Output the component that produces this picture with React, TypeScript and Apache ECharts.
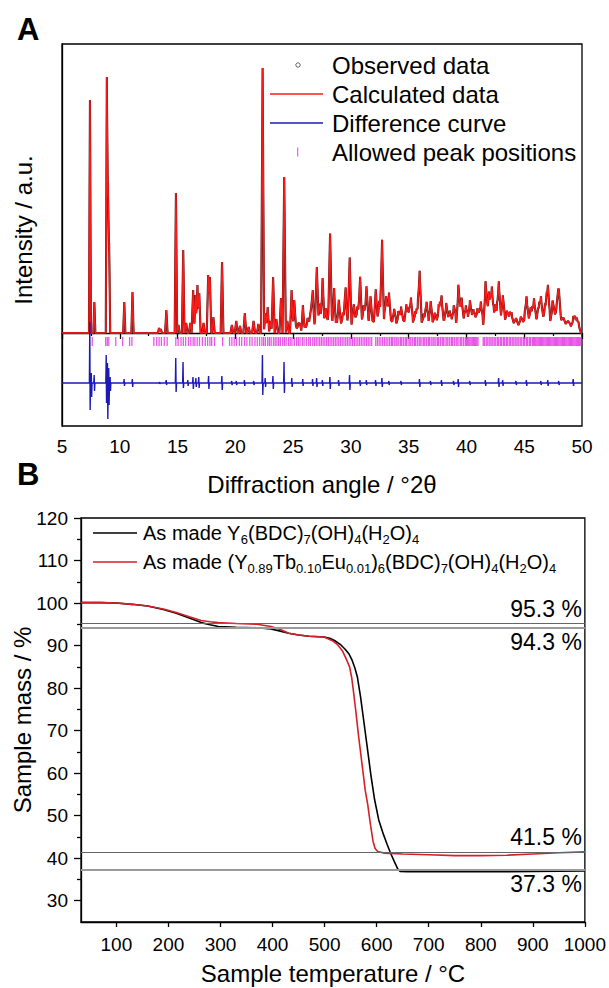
import React, { useEffect, useRef } from "react";
import * as echarts from "echarts";

const FONT = "'Liberation Sans', Arial, Helvetica, sans-serif";

// ---------------- Panel A : XRD refinement ----------------
// [2theta, calculated height, observed height] (a.u., baseline 0)
const strongPeaks: [number, number, number][] = [
  [7.42, 233, 255], [7.8, 31, 34], [8.88, 256, 258], [8.98, 150, 150], [9.08, 90, 90],
  [10.39, 31, 33], [11.1, 41, 44], [13.4, 5, 5], [13.55, 4, 4], [14.03, 23, 24],
  [14.86, 140, 155], [15.08, 8, 8], [15.49, 83, 92], [15.75, 10, 10], [16.1, 10, 10],
  [16.35, 43, 48], [16.55, 38, 40], [16.72, 48, 48], [16.88, 40, 40], [17.25, 10, 10],
  [17.65, 58, 60], [17.8, 56, 60], [18.1, 16, 16], [18.85, 71, 73], [19.7, 8, 8],
  [20.08, 12, 12], [20.4, 7, 7], [20.82, 20, 21], [21.15, 6, 6], [21.58, 12, 12],
  [22.0, 9, 9], [22.36, 265, 269], [22.6, 20, 20], [22.8, 26, 26], [23.05, 12, 12],
  [23.27, 56, 61], [23.55, 14, 14], [23.95, 35, 35], [24.23, 156, 176], [24.5, 12, 12],
  [24.87, 43, 45], [25.1, 33, 33], [25.45, 10, 10], [25.85, 28, 29], [26.25, 15, 15],
  [26.55, 25, 25], [26.7, 43, 43], [27.05, 66, 68], [27.35, 30, 30], [27.55, 55, 55],
  [27.85, 25, 25], [28.2, 100, 102], [28.55, 45, 45], [28.95, 33, 33], [29.3, 20, 20],
  [29.55, 40, 40], [29.9, 75, 88], [30.25, 28, 28], [30.55, 20, 20], [30.8, 55, 57],
  [31.1, 22, 22], [31.35, 45, 45], [31.7, 36, 36], [32.15, 42, 42], [32.45, 25, 25],
  [32.7, 92, 100], [33.05, 30, 30], [33.3, 38, 38], [33.75, 22, 22], [34.1, 18, 18],
  [34.35, 24, 24], [34.8, 26, 26], [35.2, 32, 32], [35.55, 20, 20], [35.95, 58, 60],
  [36.3, 18, 18], [36.55, 25, 25], [36.9, 30, 30], [37.25, 18, 18], [37.6, 22, 22],
  [37.85, 35, 35], [38.25, 28, 28], [38.55, 18, 18], [38.9, 25, 25], [39.3, 45, 47],
  [39.6, 32, 32], [39.95, 22, 22], [40.3, 30, 30], [40.6, 18, 18], [40.95, 22, 22],
  [41.25, 26, 26], [41.65, 48, 50], [41.95, 30, 30], [42.2, 40, 40], [42.5, 22, 22],
  [42.8, 45, 46], [43.15, 35, 35], [43.5, 20, 20], [43.9, 18, 18], [44.3, 15, 15],
  [44.7, 14, 14], [45.2, 30, 30], [45.55, 22, 22], [45.85, 28, 28], [46.2, 18, 18],
  [46.45, 30, 30], [46.8, 25, 25], [47.05, 36, 38], [47.45, 28, 28], [47.8, 22, 22],
  [48.0, 32, 33], [48.4, 15, 15], [48.8, 12, 12], [49.25, 14, 14], [49.55, 10, 10],
];

// weak reflections filling the high-angle region [2theta, height]
const weakPeaks: [number, number][] = [
  [25.25, 8], [25.6, 10], [26.05, 9], [26.4, 12], [26.9, 14], [27.2, 18], [27.7, 15],
  [28.05, 20], [28.35, 18], [28.75, 15], [29.1, 14], [29.45, 16], [29.75, 18], [30.1, 12],
  [30.4, 14], [30.65, 16], [30.95, 12], [31.2, 14], [31.5, 16], [31.85, 12], [32.0, 10],
  [32.3, 14], [32.55, 16], [32.9, 18], [33.15, 14], [33.45, 12], [33.6, 10], [33.9, 12],
  [34.2, 10], [34.5, 12], [34.65, 10], [34.95, 14], [35.05, 16], [35.35, 12], [35.7, 14],
  [35.8, 20], [36.1, 12], [36.45, 10], [36.7, 14], [37.05, 12], [37.4, 14], [37.7, 16],
  [38.05, 14], [38.4, 12], [38.7, 14], [39.05, 16], [39.45, 18], [39.8, 14], [40.1, 16],
  [40.45, 14], [40.75, 16], [41.1, 14], [41.4, 12], [41.8, 18], [42.05, 16], [42.35, 14],
  [42.65, 16], [42.95, 14], [43.3, 12], [43.65, 10], [43.75, 12], [44.1, 10], [44.5, 8],
  [44.85, 10], [45.05, 14], [45.35, 12], [45.7, 14], [46.0, 12], [46.3, 14], [46.6, 12],
  [46.95, 16], [47.2, 14], [47.6, 16], [47.95, 14], [48.2, 12], [48.6, 8], [49.0, 8],
  [49.4, 10], [49.7, 8],
];

// allowed reflection positions (2theta)
const reflections: number[] = [
  7.62, 8.78, 8.92, 9.05, 9.65, 10.25, 10.85, 11.05, 12.95, 13.2, 13.4, 13.6, 13.85, 14.1,
  14.85, 15.05, 15.3, 15.5, 15.7, 15.95, 16.15, 16.35, 16.5, 16.7, 16.9, 17.15, 17.4, 17.6,
  17.8, 17.95, 18.2, 18.9, 19.5, 19.7, 19.9, 20.1, 20.35, 20.55, 20.8, 21.0, 21.25, 21.45,
  21.7, 21.9, 22.1, 22.3, 22.45, 22.6, 22.8, 22.95, 23.1, 23.3, 23.45, 23.6, 23.75, 23.9,
  24.1, 24.25, 24.4, 24.6, 24.75, 24.9, 25.1, 25.3, 25.45, 25.6, 25.8, 25.95, 26.15, 26.35,
  26.5, 26.7, 26.85, 27.0, 27.15, 27.3, 27.45, 27.6, 27.75, 27.9, 28.05, 28.2, 28.35, 28.5,
  28.65, 28.8, 28.95, 29.1, 29.25, 29.4, 29.55, 29.7, 29.85, 30.0, 30.15, 30.3, 30.45, 30.6,
  30.75, 30.9, 31.05, 31.2, 31.35, 31.5, 31.65, 31.8, 32.15, 32.3, 32.45, 32.6, 32.75, 32.9,
  33.05, 33.2, 33.35, 33.5, 33.6, 33.75, 33.9, 34.0, 34.15, 34.3, 34.4, 34.55, 34.7, 34.8,
  34.95, 35.1, 35.2, 35.35, 35.5, 35.6, 35.75, 35.9, 36.0, 36.15, 36.3, 36.4, 36.55, 36.7,
  36.8, 36.95, 37.1, 37.2, 37.35, 37.5, 37.6, 37.75, 37.9, 38.0, 38.15, 38.3, 38.4, 38.55,
  38.7, 38.8, 38.95, 39.1, 39.2, 39.35, 39.5, 39.6, 39.75, 39.9, 40.0, 40.1, 40.2, 40.3,
  40.4, 40.5, 40.6, 40.7, 40.8, 40.9, 41.0, 41.45, 41.55, 41.7, 41.8, 41.95, 42.05, 42.2,
  42.3, 42.45, 42.55, 42.7, 42.8, 42.95, 43.05, 43.2, 43.3, 43.45, 43.55, 43.7, 43.8, 43.95,
  44.05, 44.2, 44.3, 44.45, 44.55, 44.7, 44.8, 44.95, 45.05, 45.2, 45.3, 45.45, 45.55, 45.7,
  45.8, 45.9, 46.0, 46.1, 46.2, 46.3, 46.4, 46.5, 46.6, 46.7, 46.8, 46.9, 47.0, 47.1, 47.2,
  47.3, 47.4, 47.5, 47.6, 47.7, 47.8, 47.9, 48.0, 48.1, 48.2, 48.3, 48.4, 48.5, 48.6, 48.7,
  48.8, 48.9, 49.0, 49.1, 49.2, 49.3, 49.4, 49.5, 49.6, 49.7, 49.8, 49.9,
];

// difference curve spikes [2theta, up, down] around its baseline
const diffBaseline = -50;
const diffSpikes: [number, number, number][] = [
  [7.42, 61, 27], [7.55, 10, 14], [7.8, 8, 8], [8.84, 28, 20], [8.95, 20, 36], [9.06, 15, 22],
  [9.18, 6, 8], [10.39, 4, 3], [11.1, 4, 4], [13.45, 1, 1], [14.03, 3, 2], [14.86, 25, 9],
  [15.49, 21, 5], [15.9, 3, 3], [16.35, 6, 6], [16.6, 5, 4], [16.85, 6, 5], [17.7, 7, 6],
  [18.85, 7, 7], [19.7, 2, 2], [20.1, 2, 2], [20.8, 3, 3], [21.6, 2, 2], [22.36, 28, 12],
  [22.6, 5, 4], [23.27, 7, 6], [24.23, 21, 10], [24.9, 5, 4], [25.85, 4, 3], [26.7, 4, 3],
  [27.05, 5, 4], [27.55, 3, 3], [28.2, 6, 6], [28.95, 3, 3], [29.9, 8, 7], [30.8, 3, 3],
  [31.35, 3, 2], [32.15, 3, 3], [32.7, 5, 4], [33.3, 2, 2], [34.35, 2, 2], [35.95, 4, 4],
  [36.9, 2, 2], [37.85, 3, 3], [38.9, 2, 2], [39.3, 4, 4], [40.3, 2, 2], [41.65, 3, 3],
  [42.8, 5, 4], [43.15, 3, 3], [44.3, 2, 2], [45.2, 3, 3], [46.45, 2, 2], [47.05, 3, 3],
  [48.0, 2, 2], [49.25, 4, 3],
];

const legendA = ["Observed data", "Calculated data", "Difference curve", "Allowed peak positions"];

// ---------------- Panel B : TGA ----------------
const tempBlack = [32, 70, 100, 130, 160, 190, 215, 240, 263, 280, 296, 330, 370, 397, 415, 431, 450, 470, 499, 510, 519, 530, 539, 547, 553, 558, 563, 569, 575, 582, 589, 596, 604, 613, 620, 627, 634, 640, 645, 660, 700, 800, 900, 1000];
const massBlack = [100.1, 100.1, 100.0, 99.7, 99.3, 98.5, 97.6, 96.5, 95.4, 94.9, 94.5, 94.3, 94.2, 93.9, 93.4, 92.9, 92.5, 92.2, 92.0, 91.7, 91.2, 90.3, 89.2, 88.0, 86.5, 84.8, 82.6, 78.0, 72.5, 66.0, 59.5, 53.8, 49.0, 45.6, 43.3, 41.1, 39.2, 37.6, 36.9, 36.8, 36.9, 36.8, 36.9, 37.0];
const tempRed = [32, 70, 100, 130, 160, 190, 215, 240, 263, 280, 296, 330, 370, 397, 415, 431, 450, 470, 499, 514, 525, 534, 541, 548, 552, 556, 560, 565, 570, 574, 578, 583, 588, 593, 597, 602, 615, 650, 700, 750, 800, 850, 900, 950, 1000];
const massRed = [100.1, 100.1, 100.0, 99.7, 99.3, 98.6, 97.8, 96.8, 95.9, 95.6, 95.4, 95.2, 95.0, 94.5, 93.8, 92.9, 92.5, 92.2, 92.0, 91.2, 90.2, 88.8, 87.0, 85.0, 82.5, 78.7, 74.5, 69.0, 64.0, 60.0, 56.0, 52.5, 48.0, 44.0, 42.3, 41.6, 41.2, 41.0, 40.8, 40.6, 40.6, 40.7, 41.0, 41.3, 41.5];
const massLevels = [95.3, 94.3, 41.5, 37.3];
const tempTicks = [100, 200, 300, 400, 500, 600, 700, 800, 900, 1000];
const massTicks = [30, 40, 50, 60, 70, 80, 90, 100, 110, 120];
const massMinorTicks = [35, 45, 55, 65, 75, 85, 95, 105, 115];

function halfWidth(p: number) {
  return 0.08 + 0.003 * (p - 5);
}

function buildProfile(peaks: [number, number][]) {
  const xs = new Set<number>([5, 50]);
  peaks.forEach(([p]) => {
    const w = halfWidth(p);
    xs.add(+(p - w).toFixed(4));
    xs.add(p);
    xs.add(+(p + w).toFixed(4));
  });
  const sorted = Array.from(xs).sort((a, b) => a - b);
  return sorted.map((x) => {
    let y = 0;
    peaks.forEach(([p, h]) => {
      const w = halfWidth(p);
      const d = Math.abs(x - p);
      if (d < w) y += h * (1 - d / w);
    });
    return [x, +y.toFixed(2)];
  });
}

export default function App() {
  const ref = useRef<HTMLDivElement>(null);
  useEffect(() => {
    document.body.style.margin = "0";
    if (!ref.current) return;
    const chart = echarts.init(ref.current, undefined, { renderer: "svg" });

    const calcPeaks: [number, number][] = [
      ...strongPeaks.map(([p, c]) => [p, c] as [number, number]),
      ...weakPeaks,
    ];
    const calcProfile = buildProfile(calcPeaks);
    const obsPoints = strongPeaks.map(([p, , o]) => [p, o]);
    const diffData: number[][] = [[5, diffBaseline]];
    diffSpikes.forEach(([p, up, dn]) => {
      diffData.push([p - 0.05, diffBaseline], [p - 0.015, diffBaseline + up], [p + 0.015, diffBaseline - dn], [p + 0.05, diffBaseline]);
    });
    diffData.push([50, diffBaseline]);
    const tickData = reflections.map((r) => [r, -8.5]);

    const levelStyles = [
      { color: "#666", width: 1, pos: "insideEndTop" },
      { color: "#9a9a9a", width: 1.8, pos: "insideEndBottom" },
      { color: "#666", width: 1, pos: "insideEndTop" },
      { color: "#9a9a9a", width: 1.8, pos: "insideEndBottom" },
    ];

    const axisLineStyle = { color: "#000", width: 1.3 };

    const text = (t: string, x: number, y: number, size: number, extra: any = {}) => ({
      type: "text",
      x,
      y,
      silent: true,
      ...extra.el,
      style: {
        text: t,
        fontSize: size,
        fontFamily: FONT,
        fill: "#000",
        align: "center",
        verticalAlign: "middle",
        ...extra.style,
      },
    });

    const legendAY = [65, 94, 123, 152];

    const richN = { fontSize: 20, lineHeight: 26, fontFamily: FONT, fill: "#000" };
    const richS = { fontSize: 13, lineHeight: 14, verticalAlign: "bottom", fontFamily: FONT, fill: "#000" };

    chart.setOption({
      animation: false,
      textStyle: { fontFamily: FONT },
      grid: [
        { left: 62, top: 44, width: 520, height: 382, show: true, borderColor: "#000", borderWidth: 1.3 },
        { left: 81, top: 518, width: 505, height: 404, show: true, borderColor: "#000", borderWidth: 1.3 },
      ],
      xAxis: [
        {
          type: "value", gridIndex: 0, min: 5, max: 50, interval: 5,
          axisLine: { show: true, lineStyle: axisLineStyle },
          axisTick: { show: true, length: 6, lineStyle: axisLineStyle },
          minorTick: { show: true, splitNumber: 2, length: 3, lineStyle: { color: "#000", width: 1.2 } },
          axisLabel: { fontSize: 19, color: "#000", margin: 11, fontFamily: FONT },
          splitLine: { show: false },
        },
        {
          type: "value", gridIndex: 1, min: 32, max: 1000,
          axisLine: { show: true, lineStyle: axisLineStyle },
          axisTick: { show: true, length: 5, lineStyle: axisLineStyle, customValues: tempTicks },
          axisLabel: {
            fontSize: 19, color: "#000", margin: 13, fontFamily: FONT, customValues: tempTicks,
            formatter: (v: number) => String(v),
          },
          splitLine: { show: false },
        },
      ],
      yAxis: [
        {
          type: "value", gridIndex: 0, min: -93, max: 289,
          axisLine: { show: true, lineStyle: axisLineStyle },
          axisTick: { show: false }, axisLabel: { show: false }, splitLine: { show: false },
        },
        {
          type: "value", gridIndex: 1, min: 25, max: 120,
          axisLine: { show: true, lineStyle: axisLineStyle },
          axisTick: { show: true, length: 7, lineStyle: axisLineStyle, customValues: massTicks },
          axisLabel: {
            fontSize: 19, color: "#000", margin: 13, fontFamily: FONT, customValues: massTicks,
            formatter: (v: number) => String(v),
          },
          splitLine: { show: false },
        },
        {
          type: "value", gridIndex: 1, min: 25, max: 120, position: "left",
          axisLine: { show: false },
          axisTick: { show: true, length: 4, lineStyle: axisLineStyle, customValues: massMinorTicks },
          axisLabel: { show: false }, splitLine: { show: false },
        },
      ],
      series: [
        {
          name: "Observed trace", type: "line", xAxisIndex: 0, yAxisIndex: 0,
          data: calcProfile, symbol: "none", silent: true,
          lineStyle: { color: "#5a1212", width: 2.1 },
        },
        {
          name: "Calculated data", type: "line", xAxisIndex: 0, yAxisIndex: 0,
          data: calcProfile, symbol: "none", silent: true,
          lineStyle: { color: "#ff1a1a", width: 1.4 },
        },
        {
          name: "Observed data", type: "scatter", xAxisIndex: 0, yAxisIndex: 0,
          data: obsPoints, symbol: "emptyCircle", symbolSize: 4.5, silent: true,
          itemStyle: { color: "#fff", borderColor: "#555", borderWidth: 0.9 },
        },
        {
          name: "Difference curve", type: "line", xAxisIndex: 0, yAxisIndex: 0,
          data: diffData, symbol: "none", silent: true,
          lineStyle: { color: "#1a1ab8", width: 1.4 },
        },
        {
          name: "Allowed peak positions", type: "scatter", xAxisIndex: 0, yAxisIndex: 0,
          data: tickData, symbol: "rect", symbolSize: [1.3, 9], silent: true,
          itemStyle: { color: "#e030e0" },
        },
        {
          name: "Y6", type: "line", xAxisIndex: 1, yAxisIndex: 1,
          data: tempBlack.map((t, i) => [t, massBlack[i]]), symbol: "none", silent: true,
          lineStyle: { color: "#000", width: 1.6 },
          z: 3,
          markLine: {
            silent: true, symbol: "none",
            data: massLevels.map((v, i) => ({
              yAxis: v,
              lineStyle: { color: levelStyles[i].color, width: levelStyles[i].width, type: "solid" },
              label: {
                show: true, position: levelStyles[i].pos, formatter: `${v} %`,
                fontSize: 23, color: "#000", fontFamily: FONT, distance: 3,
              },
            })),
          },
        },
        {
          name: "YTbEu", type: "line", xAxisIndex: 1, yAxisIndex: 1,
          data: tempRed.map((t, i) => [t, massRed[i]]), symbol: "none", silent: true,
          lineStyle: { color: "#d42027", width: 1.6 },
          z: 3,
        },
      ],
      graphic: [
        text("A", 17, 29, 31, { style: { align: "left", fontWeight: "bold" } }),
        text("B", 17, 474, 31, { style: { align: "left", fontWeight: "bold" } }),
        text("Intensity / a.u.", 23, 230, 24, { el: { rotation: Math.PI / 2 } }),
        text("Diffraction angle / °2θ", 322, 484, 24),
        text("Sample mass / %", 22, 720, 24, { el: { rotation: Math.PI / 2 } }),
        text("Sample temperature / °C", 333, 973, 24),
        // legend A
        { type: "circle", silent: true, shape: { cx: 298, cy: legendAY[0], r: 2.2 }, style: { fill: "#fff", stroke: "#555", lineWidth: 0.9 } },
        { type: "line", silent: true, shape: { x1: 270, y1: legendAY[1], x2: 323, y2: legendAY[1] }, style: { stroke: "#ff1a1a", lineWidth: 1.3 } },
        { type: "line", silent: true, shape: { x1: 270, y1: legendAY[2], x2: 323, y2: legendAY[2] }, style: { stroke: "#1a1ab8", lineWidth: 1.3 } },
        { type: "rect", silent: true, shape: { x: 297, y: legendAY[3] - 4.5, width: 1.3, height: 9 }, style: { fill: "#e070e0" } },
        ...legendA.map((t, i) => text(t, 332, legendAY[i], 24, { style: { align: "left" } })),
        // legend B
        { type: "line", silent: true, shape: { x1: 93, y1: 533, x2: 137, y2: 533 }, style: { stroke: "#000", lineWidth: 1.6 } },
        { type: "line", silent: true, shape: { x1: 93, y1: 562, x2: 137, y2: 562 }, style: { stroke: "#d42027", lineWidth: 1.6 } },
        {
          type: "text", x: 143, y: 533, silent: true,
          style: {
            text: "{n|As made Y}{s|6}{n|(BDC)}{s|7}{n|(OH)}{s|4}{n|(H}{s|2}{n|O)}{s|4}",
            align: "left", verticalAlign: "middle", fontFamily: FONT, fontSize: 20,
            rich: { n: richN, s: richS },
          },
        },
        {
          type: "text", x: 143, y: 562, silent: true,
          style: {
            text: "{n|As made (Y}{s|0.89}{n|Tb}{s|0.10}{n|Eu}{s|0.01}{n|)}{s|6}{n|(BDC)}{s|7}{n|(OH)}{s|4}{n|(H}{s|2}{n|O)}{s|4}",
            align: "left", verticalAlign: "middle", fontFamily: FONT, fontSize: 20,
            rich: { n: richN, s: richS },
          },
        },
      ],
    });
    return () => chart.dispose();
  }, []);
  return <div ref={ref} style={{ width: 609, height: 988 }} />;
}
